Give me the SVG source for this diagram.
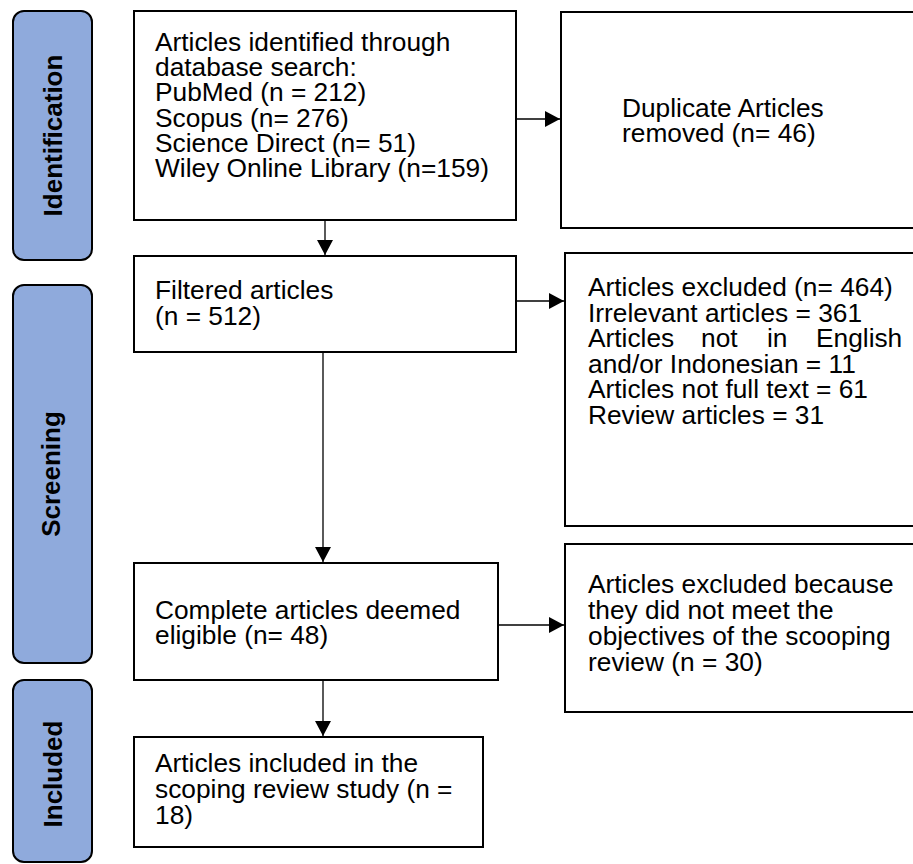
<svg xmlns="http://www.w3.org/2000/svg" width="913" height="864" viewBox="0 0 913 864">
<style>
.box{fill:#ffffff;stroke:#000000;stroke-width:2}
.side{fill:#8faadc;stroke:#000000;stroke-width:2}
.t{font-family:"Liberation Sans",Arial,sans-serif;font-size:26.3px;fill:#000000}
.s{font-family:"Liberation Sans",Arial,sans-serif;font-size:26px;font-weight:bold;fill:#000000;text-anchor:middle}
.c{stroke:#000000;stroke-width:1.3;fill:none;marker-end:url(#ah)}
</style>
<defs>
<marker id="ah" markerWidth="15" markerHeight="16" refX="15" refY="8" orient="auto" markerUnits="userSpaceOnUse"><path d="M0,0 L15,8 L0,16 z" fill="#000000"/></marker>
</defs>
<rect width="913" height="864" fill="#ffffff"/>
<g id="side-identification">
<rect class="side" x="13" y="11" width="79" height="249" rx="11"/>
<text class="s" transform="translate(62,135.5) rotate(-90)">Identification</text>
</g>
<g id="side-screening">
<rect class="side" x="13" y="285" width="79" height="378" rx="11"/>
<text class="s" transform="translate(60,474) rotate(-90)">Screening</text>
</g>
<g id="side-included">
<rect class="side" x="13" y="680" width="79" height="182" rx="11"/>
<text class="s" transform="translate(62,774) rotate(-90)">Included</text>
</g>
<g id="identified">
<rect class="box" x="134" y="11" width="382" height="209"/>
<text class="t" x="155" y="51">Articles identified through</text>
<text class="t" x="155" y="76">database search:</text>
<text class="t" x="155" y="101">PubMed (n = 212)</text>
<text class="t" x="155" y="127">Scopus (n= 276)</text>
<text class="t" x="155" y="152">Science Direct (n= 51)</text>
<text class="t" x="155" y="177">Wiley Online Library (n=159)</text>
</g>
<g id="duplicates">
<rect class="box" x="561" y="12" width="360" height="216"/>
<text class="t" x="622" y="117">Duplicate Articles</text>
<text class="t" x="622" y="142">removed (n= 46)</text>
</g>
<g id="filtered">
<rect class="box" x="134" y="256" width="382" height="96"/>
<text class="t" x="155" y="299">Filtered articles</text>
<text class="t" x="155" y="325">(n = 512)</text>
</g>
<g id="excluded">
<rect class="box" x="565" y="253" width="356" height="273"/>
<text class="t" x="588" y="296">Articles excluded (n= 464)</text>
<text class="t" x="588" y="322">Irrelevant articles = 361</text>
<text class="t" y="347"><tspan x="588">Articles</tspan><tspan x="701">not</tspan><tspan x="767">in</tspan><tspan x="816">English</tspan></text>
<text class="t" x="588" y="373">and/or Indonesian = 11</text>
<text class="t" x="588" y="398">Articles not full text = 61</text>
<text class="t" x="588" y="424">Review articles = 31</text>
</g>
<g id="eligible">
<rect class="box" x="134" y="563" width="364" height="117"/>
<text class="t" x="155" y="619">Complete articles deemed</text>
<text class="t" x="155" y="644">eligible (n= 48)</text>
</g>
<g id="excluded-objectives">
<rect class="box" x="565" y="544" width="356" height="168"/>
<text class="t" x="588" y="593">Articles excluded because</text>
<text class="t" x="588" y="619">they did not meet the</text>
<text class="t" x="588" y="645">objectives of the scooping</text>
<text class="t" x="588" y="671">review (n = 30)</text>
</g>
<g id="included">
<rect class="box" x="134" y="737" width="349" height="110"/>
<text class="t" x="155" y="772">Articles included in the</text>
<text class="t" x="155" y="798">scoping review study (n =</text>
<text class="t" x="155" y="824">18)</text>
</g>
<g id="connectors">
<path class="c" d="M325,221 L325,255"/>
<path class="c" d="M516,119 L560,119"/>
<path class="c" d="M516,301 L564,301"/>
<path class="c" d="M323,353 L323,562"/>
<path class="c" d="M498,625 L564,625"/>
<path class="c" d="M323,681 L323,736"/>
</g>
</svg>
